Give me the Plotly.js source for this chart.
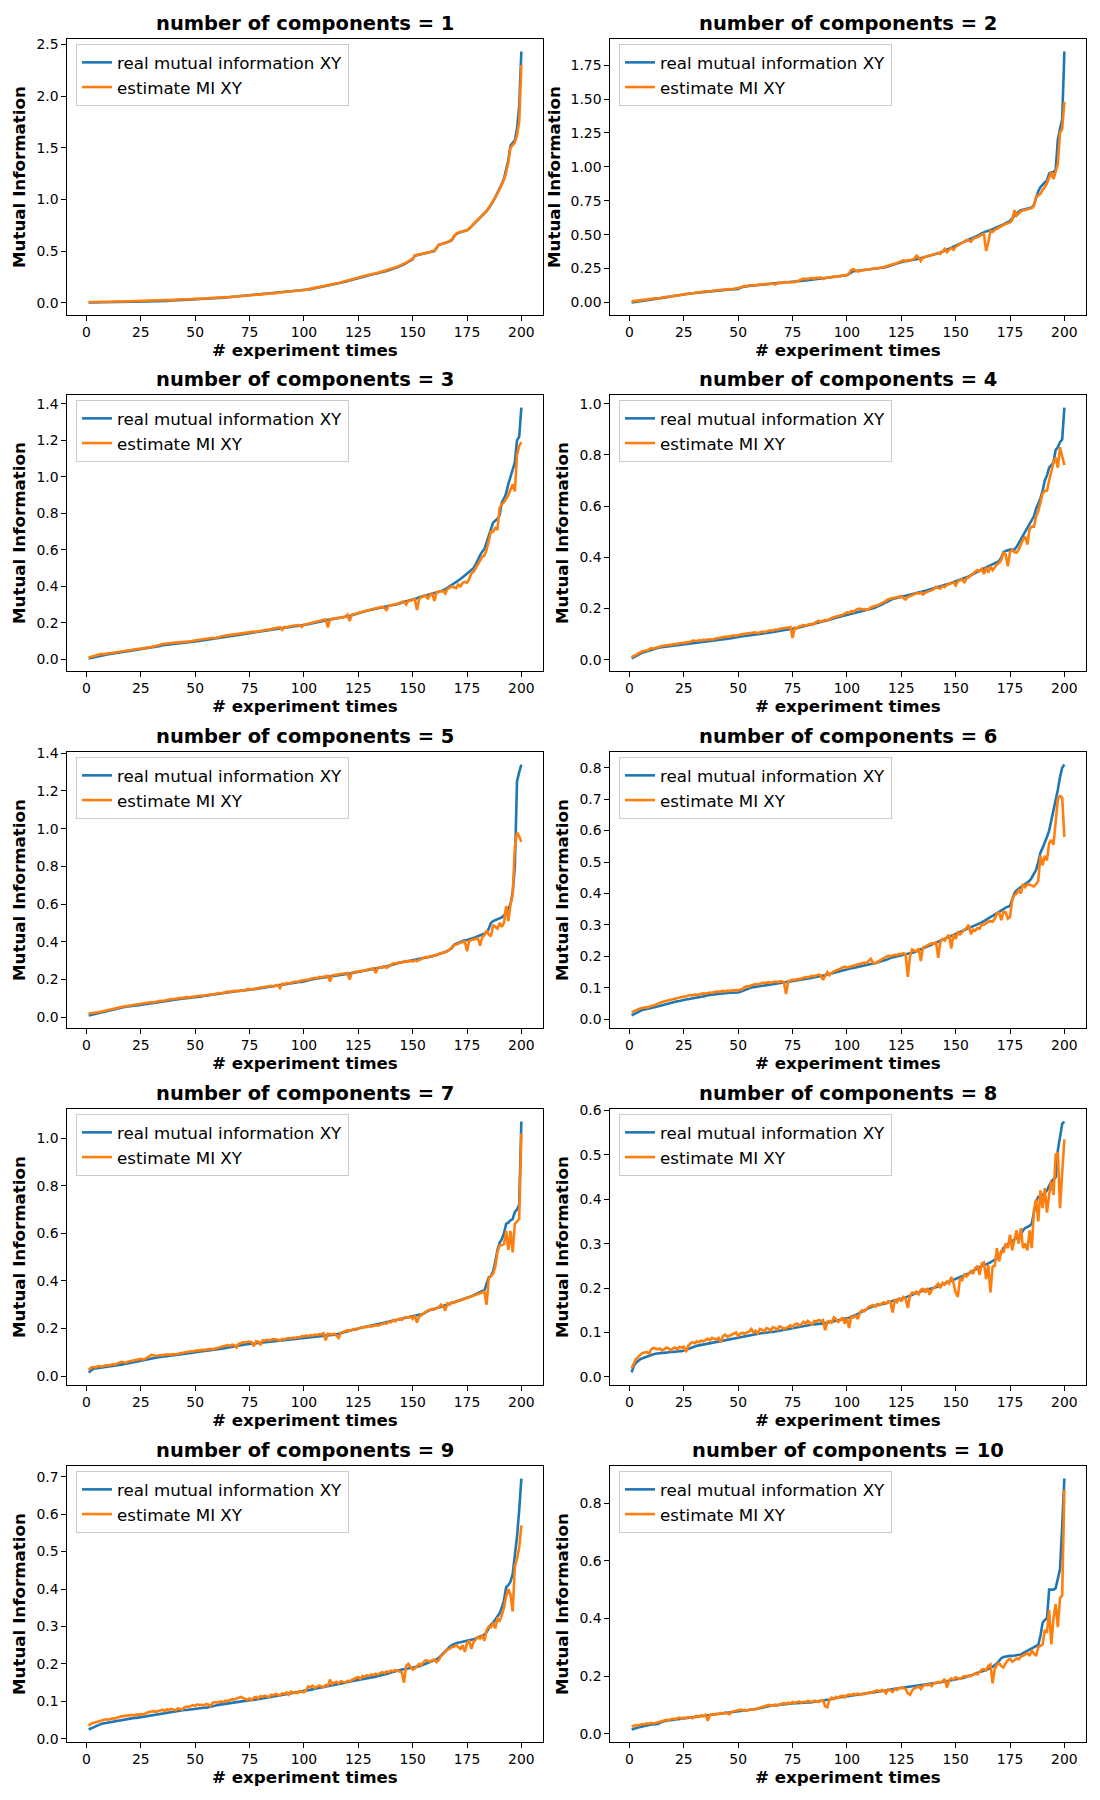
<!DOCTYPE html>
<html>
<head>
<meta charset="utf-8">
<script src="https://cdn.plot.ly/plotly-3.0.1.min.js"></script>
<style>
  html, body { margin: 0; padding: 0; background: #fff; }
  #chart { width: 1100px; height: 1800px; }
</style>
</head>
<body>
<div id="chart"></div>
<script>
'use strict';

// x axis: experiment number 1..200
const experiments = Array.from({ length: 200 }, (_, i) => i + 1);
const xTicks = [0, 25, 50, 75, 100, 125, 150, 175, 200];

// number of components = 1
const real1 = [
  0.003,0.003,0.004,0.004,0.004,0.005,0.005,0.005,0.006,0.006,
  0.006,0.007,0.007,0.007,0.008,0.008,0.009,0.009,0.010,0.010,
  0.010,0.011,0.011,0.012,0.012,0.013,0.013,0.014,0.014,0.015,
  0.015,0.016,0.016,0.017,0.017,0.018,0.018,0.019,0.020,0.020,
  0.021,0.022,0.023,0.024,0.025,0.026,0.027,0.028,0.029,0.030,
  0.031,0.032,0.033,0.035,0.036,0.038,0.040,0.041,0.043,0.045,
  0.046,0.048,0.049,0.051,0.053,0.054,0.056,0.058,0.060,0.062,
  0.063,0.065,0.066,0.068,0.070,0.072,0.074,0.076,0.078,0.080,
  0.082,0.084,0.086,0.088,0.090,0.092,0.094,0.096,0.098,0.100,
  0.102,0.104,0.106,0.108,0.110,0.112,0.114,0.116,0.118,0.120,
  0.124,0.128,0.131,0.135,0.139,0.142,0.146,0.150,0.155,0.160,
  0.165,0.170,0.174,0.178,0.183,0.188,0.193,0.198,0.204,0.210,
  0.216,0.222,0.228,0.234,0.240,0.246,0.252,0.258,0.264,0.270,
  0.274,0.278,0.282,0.286,0.290,0.296,0.302,0.308,0.314,0.320,
  0.328,0.336,0.344,0.352,0.360,0.372,0.384,0.396,0.408,0.420,
  0.455,0.460,0.464,0.468,0.472,0.478,0.484,0.490,0.495,0.500,
  0.530,0.560,0.565,0.570,0.575,0.585,0.595,0.605,0.640,0.665,
  0.675,0.685,0.690,0.695,0.700,0.715,0.735,0.760,0.780,0.800,
  0.820,0.840,0.860,0.885,0.915,0.945,0.980,1.020,1.060,1.100,
  1.150,1.200,1.280,1.380,1.520,1.550,1.570,1.680,1.900,2.430
];
const est1 = [
  0.008,0.007,0.008,0.009,0.008,0.009,0.010,0.009,0.010,0.011,
  0.010,0.011,0.012,0.011,0.013,0.012,0.014,0.013,0.015,0.016,
  0.015,0.017,0.016,0.018,0.019,0.018,0.020,0.021,0.020,0.022,
  0.023,0.022,0.024,0.025,0.024,0.026,0.027,0.026,0.028,0.029,
  0.030,0.029,0.031,0.033,0.032,0.034,0.036,0.035,0.037,0.038,
  0.038,0.040,0.039,0.042,0.044,0.043,0.046,0.048,0.047,0.050,
  0.051,0.050,0.053,0.055,0.054,0.057,0.060,0.058,0.062,0.064,
  0.066,0.065,0.068,0.071,0.073,0.072,0.076,0.078,0.080,0.079,
  0.084,0.086,0.085,0.090,0.092,0.091,0.096,0.098,0.100,0.102,
  0.106,0.105,0.109,0.112,0.111,0.115,0.118,0.117,0.122,0.124,
  0.127,0.131,0.135,0.138,0.142,0.146,0.150,0.154,0.160,0.164,
  0.170,0.176,0.174,0.182,0.188,0.190,0.197,0.203,0.208,0.215,
  0.220,0.226,0.232,0.240,0.244,0.250,0.256,0.262,0.268,0.274,
  0.278,0.283,0.286,0.290,0.296,0.302,0.306,0.312,0.318,0.326,
  0.334,0.342,0.350,0.358,0.366,0.376,0.388,0.400,0.412,0.426,
  0.458,0.462,0.466,0.470,0.476,0.480,0.486,0.492,0.498,0.505,
  0.535,0.562,0.566,0.572,0.578,0.588,0.598,0.610,0.642,0.668,
  0.678,0.686,0.692,0.698,0.702,0.718,0.738,0.762,0.782,0.805,
  0.822,0.842,0.862,0.888,0.918,0.948,0.985,1.020,1.055,1.095,
  1.140,1.190,1.260,1.360,1.500,1.530,1.550,1.620,1.750,2.300
];

// number of components = 2
const real2 = [
  0.000,0.003,0.005,0.008,0.010,0.012,0.014,0.016,0.018,0.020,
  0.022,0.024,0.026,0.029,0.032,0.035,0.038,0.041,0.044,0.047,
  0.050,0.052,0.054,0.056,0.060,0.062,0.064,0.066,0.068,0.070,
  0.072,0.074,0.076,0.078,0.080,0.082,0.083,0.085,0.086,0.088,
  0.089,0.090,0.091,0.092,0.093,0.094,0.095,0.096,0.098,0.100,
  0.108,0.115,0.117,0.119,0.121,0.122,0.124,0.126,0.128,0.130,
  0.131,0.132,0.134,0.135,0.137,0.138,0.140,0.142,0.144,0.145,
  0.146,0.147,0.148,0.149,0.150,0.152,0.154,0.156,0.158,0.160,
  0.162,0.164,0.166,0.168,0.170,0.172,0.174,0.176,0.178,0.180,
  0.182,0.184,0.186,0.188,0.190,0.192,0.194,0.196,0.198,0.200,
  0.210,0.220,0.230,0.232,0.234,0.235,0.236,0.237,0.238,0.240,
  0.242,0.244,0.246,0.248,0.250,0.254,0.258,0.262,0.266,0.270,
  0.276,0.282,0.288,0.294,0.300,0.302,0.304,0.306,0.308,0.310,
  0.314,0.318,0.322,0.326,0.330,0.334,0.338,0.342,0.346,0.350,
  0.356,0.362,0.368,0.374,0.380,0.388,0.396,0.404,0.412,0.420,
  0.428,0.436,0.444,0.452,0.460,0.466,0.472,0.478,0.484,0.490,
  0.500,0.510,0.520,0.524,0.528,0.532,0.540,0.548,0.554,0.560,
  0.568,0.576,0.584,0.592,0.600,0.620,0.640,0.655,0.668,0.680,
  0.684,0.688,0.692,0.696,0.700,0.720,0.770,0.820,0.850,0.870,
  0.885,0.900,0.950,0.960,0.960,0.980,1.200,1.280,1.350,1.850
];
const est2 = [
  0.008,0.010,0.014,0.018,0.020,0.022,0.021,0.024,0.026,0.025,
  0.028,0.030,0.029,0.033,0.036,0.038,0.042,0.040,0.045,0.048,
  0.050,0.049,0.054,0.058,0.062,0.064,0.063,0.066,0.070,0.068,
  0.076,0.074,0.078,0.080,0.083,0.082,0.086,0.085,0.088,0.090,
  0.089,0.092,0.093,0.095,0.096,0.098,0.097,0.100,0.099,0.102,
  0.110,0.118,0.122,0.120,0.126,0.124,0.128,0.125,0.132,0.130,
  0.136,0.134,0.138,0.136,0.140,0.138,0.132,0.142,0.146,0.144,
  0.148,0.150,0.149,0.152,0.151,0.150,0.156,0.160,0.170,0.175,
  0.172,0.176,0.178,0.180,0.176,0.182,0.180,0.184,0.172,0.182,
  0.186,0.184,0.190,0.192,0.188,0.194,0.196,0.198,0.200,0.202,
  0.215,0.240,0.245,0.238,0.228,0.234,0.236,0.238,0.240,0.244,
  0.246,0.248,0.252,0.250,0.256,0.258,0.262,0.266,0.270,0.274,
  0.280,0.286,0.290,0.298,0.302,0.310,0.306,0.312,0.310,0.318,
  0.322,0.345,0.330,0.305,0.332,0.336,0.340,0.346,0.350,0.356,
  0.360,0.366,0.358,0.376,0.395,0.370,0.390,0.402,0.388,0.410,
  0.420,0.432,0.440,0.448,0.462,0.458,0.448,0.470,0.475,0.480,
  0.490,0.500,0.505,0.380,0.440,0.528,0.520,0.535,0.545,0.550,
  0.562,0.570,0.578,0.586,0.590,0.605,0.680,0.640,0.660,0.672,
  0.678,0.682,0.688,0.690,0.695,0.710,0.780,0.790,0.800,0.830,
  0.850,0.880,0.920,0.960,0.910,0.960,1.020,1.250,1.280,1.480
];

// number of components = 3
const real3 = [
  0.005,0.008,0.011,0.014,0.017,0.020,0.022,0.024,0.026,0.028,
  0.030,0.032,0.034,0.036,0.038,0.040,0.042,0.044,0.046,0.048,
  0.049,0.050,0.051,0.052,0.054,0.056,0.058,0.060,0.062,0.064,
  0.066,0.068,0.070,0.074,0.078,0.080,0.082,0.083,0.084,0.085,
  0.086,0.087,0.088,0.089,0.090,0.091,0.092,0.094,0.096,0.098,
  0.100,0.102,0.104,0.106,0.108,0.110,0.112,0.113,0.114,0.115,
  0.118,0.121,0.124,0.126,0.128,0.130,0.131,0.132,0.133,0.134,
  0.136,0.138,0.140,0.142,0.144,0.146,0.148,0.150,0.151,0.152,
  0.154,0.156,0.158,0.160,0.162,0.164,0.166,0.168,0.170,0.172,
  0.174,0.176,0.178,0.180,0.181,0.182,0.183,0.184,0.185,0.186,
  0.189,0.192,0.195,0.198,0.201,0.204,0.207,0.210,0.212,0.214,
  0.216,0.218,0.220,0.222,0.224,0.226,0.228,0.230,0.232,0.234,
  0.238,0.242,0.246,0.250,0.254,0.257,0.260,0.263,0.266,0.269,
  0.272,0.275,0.278,0.281,0.284,0.287,0.290,0.292,0.294,0.296,
  0.298,0.300,0.302,0.305,0.310,0.315,0.318,0.320,0.322,0.325,
  0.330,0.335,0.340,0.343,0.346,0.349,0.352,0.355,0.358,0.362,
  0.366,0.370,0.374,0.378,0.385,0.392,0.400,0.408,0.414,0.420,
  0.430,0.440,0.450,0.460,0.470,0.480,0.490,0.500,0.520,0.550,
  0.570,0.590,0.605,0.640,0.680,0.720,0.750,0.760,0.770,0.790,
  0.860,0.880,0.910,0.960,1.000,1.040,1.080,1.200,1.220,1.380
];
const est3 = [
  0.010,0.013,0.016,0.020,0.024,0.026,0.030,0.028,0.032,0.033,
  0.034,0.036,0.040,0.042,0.044,0.046,0.045,0.048,0.050,0.052,
  0.053,0.054,0.056,0.058,0.059,0.060,0.062,0.064,0.066,0.068,
  0.070,0.072,0.076,0.080,0.084,0.086,0.088,0.090,0.089,0.091,
  0.092,0.093,0.094,0.092,0.095,0.096,0.098,0.099,0.102,0.104,
  0.106,0.108,0.110,0.112,0.114,0.116,0.117,0.118,0.116,0.120,
  0.124,0.126,0.128,0.130,0.132,0.134,0.132,0.135,0.136,0.138,
  0.140,0.142,0.144,0.146,0.148,0.150,0.152,0.151,0.154,0.156,
  0.158,0.160,0.162,0.163,0.165,0.168,0.170,0.172,0.176,0.162,
  0.178,0.176,0.180,0.182,0.184,0.186,0.185,0.188,0.178,0.190,
  0.192,0.195,0.198,0.202,0.206,0.208,0.212,0.214,0.216,0.220,
  0.175,0.218,0.222,0.224,0.226,0.228,0.230,0.232,0.234,0.245,
  0.210,0.244,0.248,0.252,0.256,0.258,0.262,0.265,0.268,0.270,
  0.274,0.277,0.280,0.283,0.286,0.289,0.280,0.270,0.294,0.298,
  0.300,0.302,0.305,0.308,0.312,0.318,0.300,0.320,0.322,0.326,
  0.330,0.270,0.332,0.340,0.345,0.350,0.330,0.355,0.360,0.320,
  0.368,0.370,0.372,0.375,0.360,0.385,0.392,0.400,0.395,0.390,
  0.410,0.400,0.420,0.425,0.420,0.440,0.470,0.480,0.500,0.520,
  0.540,0.560,0.570,0.600,0.650,0.700,0.700,0.720,0.710,0.830,
  0.850,0.860,0.880,0.900,0.930,0.960,0.920,1.120,1.170,1.190
];

// number of components = 4
const real4 = [
  0.005,0.010,0.015,0.020,0.025,0.028,0.030,0.033,0.036,0.040,
  0.042,0.044,0.046,0.048,0.049,0.050,0.051,0.052,0.053,0.055,
  0.056,0.057,0.058,0.059,0.060,0.061,0.062,0.063,0.064,0.065,
  0.066,0.067,0.068,0.069,0.070,0.071,0.072,0.073,0.074,0.075,
  0.077,0.078,0.080,0.081,0.082,0.083,0.084,0.086,0.088,0.090,
  0.091,0.092,0.093,0.094,0.095,0.096,0.097,0.098,0.099,0.100,
  0.101,0.102,0.103,0.104,0.105,0.107,0.109,0.111,0.113,0.115,
  0.116,0.117,0.118,0.119,0.120,0.122,0.124,0.126,0.128,0.130,
  0.132,0.134,0.136,0.138,0.140,0.142,0.144,0.146,0.148,0.150,
  0.153,0.156,0.159,0.162,0.165,0.167,0.169,0.171,0.173,0.175,
  0.177,0.179,0.181,0.183,0.185,0.187,0.189,0.191,0.193,0.195,
  0.198,0.201,0.204,0.207,0.210,0.215,0.220,0.225,0.230,0.235,
  0.237,0.239,0.241,0.243,0.245,0.247,0.249,0.251,0.253,0.255,
  0.257,0.259,0.261,0.263,0.265,0.268,0.271,0.274,0.277,0.280,
  0.282,0.285,0.287,0.290,0.292,0.295,0.297,0.300,0.302,0.305,
  0.308,0.311,0.314,0.317,0.320,0.325,0.330,0.335,0.340,0.345,
  0.349,0.353,0.357,0.361,0.365,0.369,0.373,0.377,0.381,0.385,
  0.400,0.420,0.425,0.428,0.430,0.430,0.430,0.440,0.455,0.470,
  0.490,0.505,0.520,0.535,0.545,0.560,0.590,0.610,0.630,0.660,
  0.700,0.720,0.750,0.760,0.770,0.820,0.830,0.850,0.860,0.985
];
const est4 = [
  0.010,0.015,0.020,0.025,0.030,0.033,0.035,0.036,0.040,0.045,
  0.043,0.047,0.050,0.052,0.054,0.056,0.058,0.057,0.058,0.060,
  0.061,0.062,0.063,0.065,0.066,0.067,0.068,0.070,0.075,0.074,
  0.073,0.076,0.075,0.078,0.077,0.079,0.080,0.078,0.082,0.084,
  0.085,0.087,0.088,0.090,0.089,0.092,0.093,0.095,0.094,0.097,
  0.099,0.100,0.101,0.102,0.104,0.103,0.106,0.107,0.104,0.108,
  0.110,0.108,0.112,0.113,0.115,0.114,0.118,0.117,0.120,0.122,
  0.121,0.124,0.126,0.128,0.085,0.125,0.122,0.130,0.132,0.135,
  0.134,0.138,0.140,0.136,0.143,0.148,0.152,0.147,0.152,0.156,
  0.154,0.160,0.163,0.166,0.168,0.170,0.174,0.176,0.180,0.185,
  0.183,0.190,0.186,0.194,0.198,0.200,0.196,0.198,0.195,0.197,
  0.204,0.208,0.210,0.213,0.216,0.220,0.226,0.230,0.236,0.238,
  0.240,0.241,0.242,0.244,0.248,0.240,0.235,0.245,0.250,0.252,
  0.256,0.260,0.258,0.262,0.255,0.262,0.265,0.270,0.272,0.276,
  0.285,0.280,0.278,0.288,0.284,0.292,0.296,0.298,0.302,0.290,
  0.306,0.310,0.314,0.300,0.318,0.322,0.330,0.338,0.344,0.350,
  0.346,0.355,0.335,0.360,0.340,0.365,0.350,0.360,0.372,0.378,
  0.390,0.420,0.410,0.365,0.420,0.430,0.420,0.418,0.430,0.450,
  0.470,0.480,0.450,0.510,0.520,0.520,0.560,0.580,0.610,0.650,
  0.660,0.660,0.700,0.740,0.770,0.790,0.750,0.830,0.790,0.760
];

// number of components = 5
const real5 = [
  0.010,0.013,0.016,0.018,0.020,0.022,0.025,0.028,0.031,0.035,
  0.038,0.041,0.044,0.047,0.050,0.052,0.054,0.056,0.058,0.060,
  0.061,0.062,0.063,0.064,0.065,0.067,0.069,0.071,0.073,0.075,
  0.077,0.079,0.081,0.083,0.085,0.087,0.089,0.091,0.093,0.095,
  0.096,0.097,0.098,0.099,0.100,0.101,0.102,0.103,0.104,0.105,
  0.107,0.109,0.111,0.113,0.115,0.117,0.119,0.121,0.123,0.125,
  0.127,0.129,0.131,0.133,0.134,0.135,0.136,0.137,0.138,0.139,
  0.140,0.141,0.142,0.143,0.145,0.147,0.149,0.151,0.153,0.155,
  0.157,0.159,0.161,0.163,0.165,0.167,0.169,0.171,0.173,0.175,
  0.177,0.179,0.181,0.183,0.184,0.185,0.186,0.187,0.188,0.190,
  0.193,0.196,0.199,0.202,0.204,0.206,0.208,0.210,0.212,0.215,
  0.217,0.219,0.221,0.223,0.225,0.226,0.227,0.228,0.229,0.230,
  0.232,0.234,0.236,0.238,0.240,0.242,0.244,0.246,0.248,0.250,
  0.252,0.254,0.256,0.258,0.260,0.263,0.266,0.270,0.274,0.278,
  0.281,0.284,0.287,0.290,0.292,0.294,0.296,0.298,0.300,0.302,
  0.304,0.306,0.308,0.310,0.312,0.315,0.318,0.321,0.324,0.327,
  0.330,0.334,0.338,0.342,0.346,0.352,0.358,0.370,0.385,0.390,
  0.395,0.400,0.405,0.408,0.410,0.413,0.416,0.420,0.425,0.430,
  0.434,0.438,0.442,0.448,0.470,0.500,0.510,0.515,0.520,0.525,
  0.530,0.540,0.555,0.575,0.600,0.660,0.800,1.250,1.300,1.340
];
const est5 = [
  0.020,0.021,0.022,0.024,0.026,0.028,0.031,0.034,0.037,0.040,
  0.043,0.046,0.049,0.052,0.054,0.056,0.057,0.059,0.061,0.063,
  0.066,0.068,0.069,0.070,0.072,0.074,0.076,0.077,0.079,0.081,
  0.080,0.083,0.086,0.088,0.087,0.090,0.092,0.095,0.097,0.096,
  0.099,0.101,0.103,0.102,0.105,0.107,0.106,0.108,0.110,0.109,
  0.112,0.114,0.116,0.115,0.118,0.120,0.122,0.121,0.125,0.127,
  0.129,0.128,0.131,0.134,0.136,0.135,0.138,0.140,0.139,0.141,
  0.142,0.144,0.143,0.150,0.147,0.148,0.151,0.153,0.155,0.157,
  0.159,0.160,0.162,0.165,0.167,0.164,0.170,0.172,0.155,0.178,
  0.176,0.182,0.180,0.185,0.186,0.190,0.188,0.192,0.193,0.197,
  0.199,0.201,0.204,0.206,0.210,0.207,0.214,0.212,0.216,0.218,
  0.220,0.190,0.222,0.224,0.226,0.228,0.226,0.230,0.232,0.235,
  0.200,0.236,0.240,0.242,0.240,0.244,0.246,0.248,0.252,0.255,
  0.258,0.260,0.235,0.262,0.264,0.268,0.270,0.262,0.272,0.278,
  0.285,0.286,0.288,0.292,0.290,0.296,0.298,0.295,0.300,0.296,
  0.302,0.298,0.305,0.310,0.315,0.320,0.318,0.325,0.324,0.330,
  0.328,0.336,0.340,0.345,0.348,0.350,0.360,0.365,0.382,0.388,
  0.390,0.395,0.398,0.402,0.350,0.405,0.410,0.412,0.415,0.420,
  0.380,0.425,0.435,0.460,0.440,0.430,0.490,0.480,0.470,0.500,
  0.480,0.500,0.590,0.510,0.600,0.650,0.900,0.980,0.960,0.930
];

// number of components = 6
const real6 = [
  0.012,0.016,0.020,0.024,0.028,0.030,0.031,0.032,0.034,0.035,
  0.037,0.039,0.041,0.043,0.045,0.047,0.049,0.051,0.053,0.055,
  0.056,0.057,0.058,0.060,0.062,0.063,0.064,0.065,0.066,0.067,
  0.068,0.069,0.070,0.072,0.074,0.076,0.077,0.078,0.079,0.080,
  0.081,0.082,0.082,0.083,0.083,0.084,0.084,0.084,0.085,0.085,
  0.087,0.090,0.094,0.097,0.100,0.101,0.102,0.103,0.104,0.105,
  0.106,0.107,0.108,0.109,0.110,0.111,0.112,0.113,0.114,0.115,
  0.116,0.117,0.118,0.119,0.120,0.121,0.122,0.123,0.124,0.125,
  0.126,0.128,0.130,0.132,0.134,0.135,0.136,0.137,0.138,0.140,
  0.142,0.144,0.146,0.148,0.150,0.152,0.154,0.156,0.158,0.160,
  0.161,0.162,0.163,0.164,0.165,0.167,0.169,0.171,0.173,0.175,
  0.176,0.177,0.178,0.180,0.182,0.184,0.186,0.188,0.191,0.195,
  0.197,0.199,0.201,0.203,0.205,0.206,0.207,0.208,0.209,0.210,
  0.213,0.216,0.219,0.222,0.225,0.228,0.231,0.234,0.237,0.240,
  0.243,0.246,0.249,0.252,0.255,0.258,0.261,0.264,0.267,0.270,
  0.273,0.276,0.279,0.282,0.285,0.288,0.291,0.294,0.297,0.300,
  0.304,0.308,0.312,0.316,0.320,0.324,0.328,0.332,0.336,0.340,
  0.345,0.350,0.355,0.358,0.360,0.380,0.400,0.410,0.415,0.420,
  0.425,0.430,0.435,0.440,0.450,0.465,0.475,0.500,0.530,0.545,
  0.560,0.580,0.600,0.630,0.670,0.700,0.730,0.770,0.800,0.810
];
const est6 = [
  0.022,0.026,0.030,0.032,0.034,0.036,0.038,0.037,0.040,0.042,
  0.044,0.046,0.048,0.052,0.055,0.056,0.058,0.060,0.062,0.064,
  0.066,0.068,0.070,0.071,0.072,0.073,0.075,0.077,0.076,0.078,
  0.077,0.079,0.080,0.082,0.081,0.083,0.085,0.084,0.086,0.088,
  0.087,0.089,0.090,0.088,0.091,0.090,0.092,0.091,0.093,0.092,
  0.094,0.096,0.102,0.105,0.103,0.108,0.110,0.112,0.110,0.114,
  0.116,0.115,0.117,0.118,0.116,0.119,0.120,0.118,0.119,0.121,
  0.118,0.080,0.120,0.124,0.126,0.125,0.128,0.127,0.130,0.131,
  0.134,0.133,0.136,0.138,0.137,0.140,0.142,0.140,0.125,0.138,
  0.150,0.140,0.148,0.152,0.156,0.158,0.160,0.165,0.167,0.164,
  0.166,0.168,0.170,0.172,0.174,0.176,0.178,0.180,0.178,0.185,
  0.192,0.180,0.178,0.182,0.185,0.190,0.194,0.198,0.202,0.200,
  0.203,0.205,0.204,0.208,0.207,0.210,0.206,0.135,0.200,0.222,
  0.218,0.216,0.225,0.185,0.228,0.232,0.234,0.238,0.242,0.240,
  0.246,0.195,0.248,0.255,0.250,0.262,0.268,0.225,0.270,0.255,
  0.276,0.270,0.278,0.285,0.290,0.300,0.270,0.285,0.282,0.290,
  0.288,0.302,0.300,0.306,0.310,0.312,0.310,0.320,0.336,0.338,
  0.315,0.342,0.340,0.320,0.325,0.380,0.395,0.400,0.410,0.400,
  0.430,0.420,0.430,0.428,0.426,0.422,0.430,0.440,0.520,0.490,
  0.520,0.505,0.560,0.570,0.555,0.640,0.700,0.710,0.705,0.580
];

// number of components = 7
const real7 = [
  0.015,0.022,0.030,0.032,0.033,0.034,0.035,0.036,0.037,0.040,
  0.041,0.042,0.043,0.044,0.046,0.048,0.050,0.052,0.054,0.056,
  0.058,0.060,0.062,0.064,0.066,0.067,0.068,0.070,0.072,0.074,
  0.076,0.078,0.079,0.080,0.081,0.082,0.083,0.084,0.085,0.086,
  0.087,0.088,0.089,0.090,0.091,0.092,0.094,0.096,0.098,0.100,
  0.101,0.102,0.103,0.104,0.105,0.106,0.107,0.108,0.109,0.110,
  0.112,0.114,0.116,0.118,0.120,0.122,0.124,0.126,0.128,0.130,
  0.131,0.132,0.133,0.134,0.135,0.136,0.137,0.138,0.139,0.140,
  0.141,0.142,0.143,0.144,0.145,0.146,0.147,0.148,0.149,0.150,
  0.151,0.152,0.153,0.154,0.155,0.156,0.157,0.158,0.159,0.160,
  0.161,0.162,0.163,0.164,0.165,0.166,0.167,0.168,0.169,0.170,
  0.171,0.172,0.173,0.174,0.175,0.178,0.181,0.184,0.187,0.190,
  0.192,0.194,0.196,0.198,0.200,0.202,0.204,0.206,0.208,0.210,
  0.212,0.214,0.216,0.218,0.220,0.222,0.224,0.226,0.228,0.230,
  0.232,0.234,0.236,0.238,0.240,0.242,0.244,0.246,0.248,0.250,
  0.252,0.254,0.256,0.258,0.262,0.268,0.274,0.278,0.280,0.282,
  0.285,0.288,0.291,0.294,0.297,0.300,0.303,0.306,0.309,0.312,
  0.315,0.318,0.321,0.324,0.327,0.330,0.335,0.340,0.345,0.350,
  0.355,0.358,0.360,0.390,0.415,0.420,0.440,0.480,0.530,0.560,
  0.575,0.600,0.640,0.645,0.655,0.660,0.690,0.700,0.720,1.070
];
const est7 = [
  0.025,0.035,0.038,0.036,0.040,0.042,0.039,0.043,0.045,0.044,
  0.047,0.049,0.048,0.052,0.055,0.060,0.058,0.056,0.060,0.062,
  0.064,0.066,0.068,0.070,0.072,0.070,0.072,0.078,0.085,0.090,
  0.086,0.084,0.085,0.088,0.087,0.090,0.089,0.088,0.090,0.092,
  0.091,0.094,0.096,0.095,0.098,0.100,0.102,0.104,0.103,0.106,
  0.108,0.107,0.110,0.109,0.111,0.112,0.114,0.112,0.116,0.118,
  0.120,0.122,0.124,0.128,0.130,0.127,0.132,0.130,0.120,0.135,
  0.140,0.142,0.141,0.143,0.145,0.142,0.125,0.146,0.144,0.130,
  0.150,0.148,0.152,0.150,0.153,0.155,0.154,0.152,0.150,0.156,
  0.154,0.158,0.160,0.158,0.162,0.160,0.164,0.162,0.168,0.166,
  0.170,0.168,0.172,0.170,0.174,0.172,0.176,0.175,0.180,0.150,
  0.178,0.176,0.175,0.178,0.168,0.160,0.182,0.186,0.188,0.192,
  0.190,0.195,0.198,0.194,0.200,0.204,0.202,0.208,0.206,0.210,
  0.208,0.212,0.214,0.212,0.216,0.220,0.222,0.220,0.228,0.226,
  0.236,0.230,0.238,0.240,0.236,0.245,0.248,0.246,0.250,0.240,
  0.254,0.225,0.250,0.256,0.262,0.268,0.276,0.278,0.282,0.280,
  0.286,0.290,0.300,0.292,0.275,0.305,0.300,0.310,0.308,0.314,
  0.316,0.320,0.322,0.325,0.328,0.330,0.334,0.338,0.340,0.345,
  0.348,0.350,0.355,0.300,0.410,0.420,0.430,0.460,0.520,0.550,
  0.550,0.555,0.610,0.530,0.610,0.520,0.640,0.650,0.660,1.020
];

// number of components = 8
const real8 = [
  0.010,0.025,0.032,0.037,0.040,0.042,0.044,0.046,0.048,0.050,
  0.051,0.052,0.053,0.053,0.054,0.054,0.055,0.055,0.056,0.056,
  0.057,0.057,0.058,0.058,0.059,0.061,0.063,0.065,0.067,0.069,
  0.070,0.071,0.072,0.073,0.074,0.075,0.076,0.077,0.078,0.079,
  0.080,0.081,0.082,0.083,0.084,0.085,0.086,0.087,0.088,0.089,
  0.090,0.091,0.092,0.093,0.094,0.095,0.096,0.097,0.098,0.098,
  0.099,0.099,0.100,0.100,0.101,0.101,0.102,0.103,0.104,0.105,
  0.106,0.107,0.108,0.109,0.110,0.111,0.112,0.113,0.114,0.115,
  0.116,0.117,0.117,0.118,0.118,0.119,0.119,0.120,0.120,0.121,
  0.122,0.123,0.124,0.125,0.126,0.127,0.128,0.129,0.130,0.131,
  0.133,0.135,0.137,0.139,0.141,0.144,0.147,0.150,0.152,0.155,
  0.157,0.159,0.160,0.162,0.163,0.164,0.165,0.166,0.168,0.170,
  0.171,0.172,0.173,0.174,0.175,0.177,0.179,0.181,0.183,0.185,
  0.187,0.189,0.191,0.193,0.195,0.196,0.197,0.198,0.199,0.200,
  0.202,0.204,0.206,0.208,0.210,0.212,0.214,0.216,0.218,0.220,
  0.222,0.224,0.226,0.228,0.230,0.233,0.236,0.239,0.242,0.245,
  0.247,0.249,0.251,0.253,0.255,0.258,0.261,0.264,0.267,0.270,
  0.280,0.290,0.295,0.300,0.303,0.306,0.309,0.312,0.316,0.320,
  0.330,0.335,0.337,0.340,0.345,0.370,0.395,0.405,0.408,0.410,
  0.415,0.420,0.430,0.440,0.445,0.450,0.510,0.540,0.570,0.575
];
const est8 = [
  0.020,0.030,0.040,0.045,0.050,0.054,0.055,0.056,0.052,0.062,
  0.065,0.063,0.062,0.064,0.060,0.062,0.066,0.064,0.060,0.064,
  0.066,0.062,0.068,0.066,0.068,0.056,0.070,0.075,0.078,0.076,
  0.080,0.078,0.082,0.080,0.084,0.086,0.082,0.088,0.086,0.084,
  0.088,0.078,0.092,0.095,0.090,0.093,0.095,0.098,0.100,0.092,
  0.098,0.099,0.097,0.100,0.102,0.108,0.100,0.104,0.098,0.108,
  0.106,0.102,0.110,0.108,0.104,0.112,0.110,0.106,0.114,0.112,
  0.108,0.110,0.114,0.116,0.112,0.118,0.120,0.116,0.118,0.124,
  0.120,0.126,0.122,0.118,0.126,0.124,0.128,0.126,0.128,0.105,
  0.124,0.126,0.122,0.134,0.130,0.124,0.128,0.134,0.120,0.132,
  0.110,0.136,0.134,0.138,0.130,0.145,0.150,0.148,0.152,0.158,
  0.160,0.162,0.158,0.164,0.162,0.166,0.168,0.165,0.170,0.168,
  0.145,0.172,0.168,0.178,0.170,0.180,0.176,0.155,0.182,0.190,
  0.188,0.192,0.186,0.196,0.198,0.190,0.200,0.185,0.196,0.200,
  0.205,0.210,0.200,0.212,0.208,0.215,0.210,0.225,0.212,0.190,
  0.180,0.222,0.218,0.230,0.226,0.232,0.238,0.232,0.245,0.250,
  0.230,0.255,0.258,0.220,0.252,0.190,0.248,0.250,0.290,0.260,
  0.285,0.280,0.300,0.290,0.320,0.285,0.310,0.330,0.300,0.335,
  0.290,0.300,0.285,0.330,0.290,0.375,0.400,0.350,0.420,0.380,
  0.425,0.370,0.410,0.440,0.410,0.500,0.505,0.380,0.460,0.535
];

// number of components = 9
const real9 = [
  0.025,0.028,0.031,0.034,0.036,0.038,0.040,0.041,0.043,0.045,
  0.046,0.047,0.048,0.049,0.050,0.051,0.052,0.053,0.054,0.055,
  0.055,0.056,0.056,0.057,0.057,0.058,0.059,0.060,0.061,0.063,
  0.064,0.065,0.066,0.067,0.068,0.069,0.070,0.070,0.071,0.072,
  0.073,0.074,0.075,0.076,0.077,0.077,0.078,0.079,0.079,0.080,
  0.081,0.081,0.082,0.083,0.083,0.084,0.085,0.086,0.088,0.090,
  0.091,0.092,0.093,0.094,0.095,0.096,0.097,0.098,0.099,0.100,
  0.101,0.101,0.102,0.102,0.103,0.104,0.104,0.105,0.106,0.107,
  0.108,0.109,0.110,0.111,0.112,0.113,0.114,0.115,0.116,0.117,
  0.118,0.119,0.120,0.121,0.122,0.123,0.124,0.125,0.126,0.127,
  0.128,0.130,0.131,0.132,0.134,0.135,0.136,0.137,0.138,0.140,
  0.141,0.142,0.143,0.144,0.146,0.147,0.148,0.149,0.150,0.152,
  0.153,0.154,0.155,0.156,0.157,0.158,0.159,0.160,0.161,0.163,
  0.164,0.165,0.166,0.168,0.169,0.170,0.172,0.173,0.175,0.177,
  0.178,0.180,0.181,0.183,0.185,0.186,0.187,0.188,0.189,0.190,
  0.191,0.192,0.194,0.196,0.198,0.200,0.202,0.204,0.206,0.208,
  0.212,0.216,0.222,0.228,0.235,0.240,0.245,0.250,0.253,0.255,
  0.257,0.258,0.259,0.260,0.262,0.264,0.265,0.266,0.268,0.270,
  0.272,0.274,0.278,0.285,0.295,0.305,0.310,0.318,0.325,0.335,
  0.350,0.370,0.405,0.410,0.420,0.440,0.490,0.540,0.610,0.695
];
const est9 = [
  0.035,0.040,0.042,0.044,0.045,0.047,0.048,0.050,0.052,0.051,
  0.053,0.055,0.054,0.057,0.058,0.060,0.061,0.062,0.061,0.063,
  0.064,0.062,0.065,0.064,0.066,0.065,0.068,0.070,0.072,0.073,
  0.074,0.072,0.075,0.076,0.078,0.074,0.079,0.077,0.080,0.078,
  0.076,0.081,0.080,0.078,0.084,0.086,0.085,0.088,0.090,0.088,
  0.092,0.090,0.091,0.089,0.093,0.092,0.088,0.096,0.098,0.097,
  0.099,0.100,0.098,0.102,0.101,0.104,0.106,0.105,0.108,0.110,
  0.112,0.109,0.106,0.104,0.108,0.103,0.110,0.112,0.108,0.114,
  0.112,0.115,0.113,0.112,0.118,0.116,0.120,0.118,0.116,0.122,
  0.120,0.124,0.118,0.126,0.123,0.125,0.122,0.127,0.126,0.124,
  0.130,0.140,0.138,0.142,0.136,0.140,0.142,0.140,0.138,0.144,
  0.142,0.158,0.146,0.150,0.152,0.148,0.154,0.152,0.150,0.155,
  0.154,0.157,0.160,0.162,0.165,0.160,0.168,0.165,0.170,0.168,
  0.172,0.170,0.174,0.172,0.176,0.178,0.175,0.180,0.178,0.182,
  0.180,0.184,0.182,0.180,0.178,0.150,0.195,0.200,0.192,0.185,
  0.188,0.195,0.200,0.196,0.205,0.210,0.208,0.206,0.210,0.212,
  0.205,0.210,0.220,0.225,0.232,0.238,0.240,0.245,0.246,0.250,
  0.245,0.240,0.250,0.232,0.255,0.262,0.240,0.258,0.265,0.272,
  0.268,0.275,0.262,0.290,0.300,0.298,0.310,0.295,0.320,0.315,
  0.330,0.350,0.380,0.400,0.385,0.340,0.460,0.480,0.510,0.570
];

// number of components = 10
const real10 = [
  0.015,0.018,0.020,0.022,0.024,0.026,0.028,0.030,0.031,0.032,
  0.032,0.033,0.034,0.038,0.042,0.044,0.045,0.046,0.047,0.048,
  0.049,0.050,0.051,0.052,0.053,0.054,0.055,0.055,0.056,0.057,
  0.058,0.059,0.060,0.061,0.062,0.063,0.064,0.065,0.066,0.067,
  0.068,0.069,0.070,0.071,0.072,0.073,0.074,0.075,0.076,0.077,
  0.078,0.079,0.080,0.080,0.081,0.082,0.083,0.085,0.087,0.089,
  0.091,0.093,0.095,0.096,0.097,0.098,0.099,0.100,0.101,0.102,
  0.103,0.104,0.104,0.105,0.105,0.106,0.106,0.107,0.107,0.108,
  0.108,0.109,0.109,0.110,0.110,0.111,0.112,0.113,0.114,0.115,
  0.117,0.119,0.121,0.123,0.125,0.126,0.127,0.128,0.129,0.130,
  0.131,0.132,0.133,0.134,0.135,0.136,0.137,0.138,0.139,0.140,
  0.141,0.142,0.143,0.144,0.145,0.146,0.148,0.150,0.152,0.154,
  0.155,0.156,0.157,0.158,0.159,0.160,0.161,0.162,0.163,0.164,
  0.165,0.166,0.167,0.168,0.169,0.170,0.171,0.172,0.173,0.175,
  0.176,0.177,0.178,0.179,0.180,0.182,0.184,0.186,0.188,0.190,
  0.191,0.192,0.193,0.195,0.197,0.199,0.202,0.205,0.208,0.212,
  0.214,0.216,0.218,0.221,0.224,0.228,0.232,0.238,0.244,0.252,
  0.262,0.266,0.268,0.269,0.270,0.270,0.271,0.271,0.272,0.275,
  0.280,0.284,0.287,0.290,0.294,0.298,0.302,0.308,0.340,0.385,
  0.395,0.400,0.500,0.500,0.500,0.505,0.540,0.570,0.720,0.885
];
const est10 = [
  0.025,0.028,0.030,0.029,0.032,0.034,0.033,0.036,0.035,0.038,
  0.036,0.037,0.040,0.042,0.045,0.046,0.048,0.047,0.050,0.052,
  0.051,0.054,0.056,0.053,0.056,0.055,0.058,0.057,0.054,0.060,
  0.062,0.058,0.064,0.061,0.066,0.045,0.065,0.068,0.066,0.070,
  0.068,0.072,0.070,0.074,0.071,0.068,0.076,0.078,0.080,0.082,
  0.084,0.081,0.083,0.080,0.082,0.085,0.084,0.087,0.088,0.090,
  0.092,0.094,0.096,0.100,0.097,0.099,0.101,0.098,0.102,0.104,
  0.106,0.103,0.108,0.105,0.110,0.107,0.109,0.112,0.108,0.111,
  0.110,0.114,0.112,0.109,0.115,0.112,0.111,0.114,0.116,0.095,
  0.092,0.118,0.125,0.120,0.128,0.124,0.130,0.132,0.126,0.134,
  0.136,0.134,0.138,0.136,0.140,0.135,0.138,0.137,0.140,0.143,
  0.142,0.146,0.148,0.150,0.145,0.152,0.150,0.140,0.154,0.150,
  0.145,0.155,0.152,0.158,0.160,0.158,0.155,0.140,0.135,0.150,
  0.158,0.160,0.164,0.155,0.166,0.170,0.168,0.172,0.165,0.175,
  0.176,0.180,0.178,0.182,0.190,0.160,0.185,0.192,0.188,0.196,
  0.194,0.190,0.196,0.200,0.198,0.202,0.200,0.205,0.210,0.206,
  0.215,0.222,0.224,0.220,0.235,0.240,0.175,0.225,0.240,0.245,
  0.235,0.230,0.245,0.255,0.260,0.250,0.255,0.262,0.258,0.268,
  0.270,0.275,0.280,0.270,0.290,0.278,0.270,0.300,0.305,0.310,
  0.360,0.350,0.430,0.310,0.400,0.450,0.370,0.470,0.480,0.845
];

const components = [1, 2, 3, 4, 5, 6, 7, 8, 9, 10];
const realSeries = [real1, real2, real3, real4, real5, real6, real7, real8, real9, real10];
const estSeries = [est1, est2, est3, est4, est5, est6, est7, est8, est9, est10];
const yTickStep = [0.5, 0.25, 0.2, 0.2, 0.2, 0.1, 0.2, 0.1, 0.1, 0.2];
const yTickFormat = ['.1f', '.2f', '.1f', '.1f', '.1f', '.1f', '.1f', '.1f', '.1f', '.1f'];

// page geometry, in pixels
const W = 1100, H = 1800;
const colLeft = [67, 610], colWidth = 476;
const rowTop = [39, 395, 752, 1109, 1466], rowHeight = 276;

const FONT = 'DejaVu Sans';
const BLUE = '#1f77b4', ORANGE = '#ff7f0e';

const traces = [];
const annotations = [];
const layout = {
    width: W,
    height: H,
    margin: { l: 0, r: 0, t: 0, b: 0 },
    paper_bgcolor: '#fff',
    plot_bgcolor: '#fff',
    font: { family: FONT, size: 13.9, color: '#000' },
    showlegend: true
};

components.forEach((n, i) => {
    const row = Math.floor(i / 2), col = i % 2;
    const k = i === 0 ? '' : String(i + 1);
    const x0 = colLeft[col] / W, x1 = (colLeft[col] + colWidth) / W;
    const yTop = 1 - rowTop[row] / H, yBot = 1 - (rowTop[row] + rowHeight) / H;
    const legendName = 'legend' + k;

    // matplotlib style 5% padding around data
    const all = realSeries[i].concat(estSeries[i]);
    const lo = Math.min(...all), hi = Math.max(...all);
    const pad = (hi - lo) * 0.05;

    traces.push({
        x: experiments, y: realSeries[i],
        type: 'scatter', mode: 'lines',
        name: 'real mutual information XY',
        line: { color: BLUE, width: 2.6 },
        xaxis: 'x' + k, yaxis: 'y' + k,
        legend: legendName, legendgroup: 'real' + n,
        hoverinfo: 'skip'
    });
    traces.push({
        x: experiments, y: estSeries[i],
        type: 'scatter', mode: 'lines',
        name: 'estimate MI XY',
        line: { color: ORANGE, width: 2.6 },
        xaxis: 'x' + k, yaxis: 'y' + k,
        legend: legendName, legendgroup: 'est' + n,
        hoverinfo: 'skip'
    });

    const axisCommon = {
        showgrid: false, zeroline: false,
        showline: true, mirror: true, linecolor: '#000', linewidth: 1,
        ticks: 'outside', ticklen: 4.7, tickwidth: 1, tickcolor: '#000',
        tickfont: { family: FONT, size: 13.9, color: '#000' },
        fixedrange: true
    };
    layout['xaxis' + k] = Object.assign({}, axisCommon, {
        domain: [x0, x1],
        anchor: 'y' + k,
        range: [-8.95, 209.95],
        tickmode: 'array', tickvals: xTicks
    });
    layout['yaxis' + k] = Object.assign({}, axisCommon, {
        domain: [yBot, yTop],
        anchor: 'x' + k,
        range: [lo - pad, hi + pad],
        tickmode: 'linear', tick0: 0, dtick: yTickStep[i],
        tickformat: yTickFormat[i]
    });

    layout[legendName] = {
        x: x0 + 9 / W, y: yTop - 5 / H,
        xanchor: 'left', yanchor: 'top',
        xref: 'paper', yref: 'paper',
        bgcolor: 'rgba(255,255,255,0.8)',
        bordercolor: '#cccccc', borderwidth: 1,
        font: { family: FONT, size: 16.7, color: '#000' },
        traceorder: 'grouped', tracegroupgap: 0
    };

    // subplot title
    annotations.push({
        text: 'number of components = ' + n,
        xref: 'paper', yref: 'paper',
        x: (x0 + x1) / 2, y: yTop,
        xanchor: 'center', yanchor: 'middle', yshift: 15.5,
        showarrow: false,
        font: { family: FONT, size: 19.5, color: '#000', weight: 'bold' }
    });
    // x axis label
    annotations.push({
        text: '# experiment times',
        xref: 'paper', yref: 'paper',
        x: (x0 + x1) / 2, y: yBot,
        xanchor: 'center', yanchor: 'middle', yshift: -35,
        showarrow: false,
        font: { family: FONT, size: 16.7, color: '#000', weight: 'bold' }
    });
    // y axis label
    annotations.push({
        text: 'Mutual Information',
        xref: 'paper', yref: 'paper',
        x: x0, y: (yBot + yTop) / 2,
        xanchor: 'center', yanchor: 'middle',
        xshift: yTickFormat[i] === '.2f' ? -56 : -48,
        textangle: -90,
        showarrow: false,
        font: { family: FONT, size: 16.7, color: '#000', weight: 'bold' }
    });
});

layout.annotations = annotations;

Plotly.newPlot('chart', traces, layout, { staticPlot: true, displayModeBar: false });
</script>
</body>
</html>
